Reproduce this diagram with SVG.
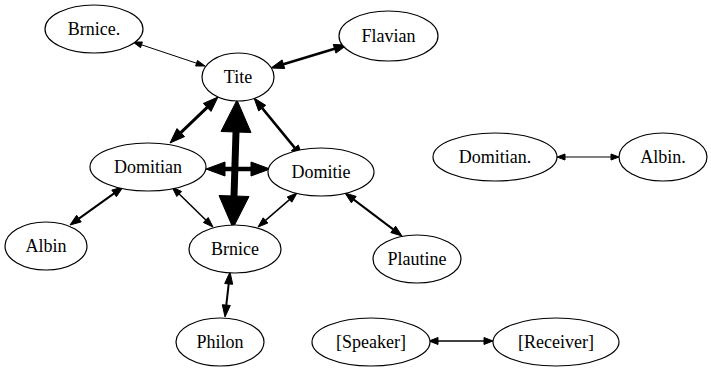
<svg xmlns="http://www.w3.org/2000/svg" width="711" height="371" viewBox="0 0 711 371">
  <style>
    .node ellipse { fill: #ffffff; stroke: #000000; stroke-width: 1.2; }
    .node text { font-family: "Liberation Serif", "Times New Roman", serif; font-size: 18px; text-anchor: middle; fill: #000000; }
    .edge line { stroke: #000000; fill: none; }
    .edge polygon { fill: #000000; stroke: #000000; stroke-width: 1; stroke-linejoin: miter; }
  </style>
  <rect width="711" height="371" fill="#ffffff"/>

  <!-- connectors: every edge is two-way, arrowheads drawn at both ends -->
  <g id="edges">
    <g class="edge" id="e_brnice2_tite">
      <line x1="141.5" y1="44.8" x2="196.5" y2="63.2" stroke-width="1"/>
      <polygon points="133,42 140.6,47.7 142.4,42.0"/>
      <polygon points="205,66 195.6,66.0 197.5,60.4"/>
    </g>
    <g class="edge" id="e_tite_flavian">
      <line x1="283.4" y1="64.2" x2="334.6" y2="48.8" stroke-width="2.5"/>
      <polygon points="271,68 284.7,68.5 282.1,59.9"/>
      <polygon points="347,45 335.9,53.1 333.3,44.5"/>
    </g>
    <g class="edge" id="e_tite_domitian">
      <line x1="207.2" y1="107.4" x2="180.8" y2="132.6" stroke-width="3"/>
      <polygon points="218,97 203.4,103.4 211.0,111.4"/>
      <polygon points="170,143 177.0,128.6 184.6,136.6"/>
    </g>
    <g class="edge" id="e_tite_domitie">
      <line x1="262.2" y1="108.1" x2="294.8" y2="147.9" stroke-width="2.5"/>
      <polygon points="254,98 258.7,110.9 265.7,105.3"/>
      <polygon points="303,158 291.3,150.7 298.3,145.1"/>
    </g>
    <g class="edge" id="e_domitian_domitie">
      <line x1="225" y1="169" x2="251" y2="169" stroke-width="4.5"/>
      <polygon points="206,169 225,162 225,176"/>
      <polygon points="270,169 251,162 251,176"/>
    </g>
    <g class="edge" id="e_tite_brnice">
      <line x1="236" y1="132" x2="234" y2="196" stroke-width="7"/>
      <polygon points="237,100 221.0,131.5 251.0,132.5"/>
      <polygon points="233,228 219.0,195.5 249.0,196.5"/>
    </g>
    <g class="edge" id="e_domitian_albin">
      <line x1="114.1" y1="193.4" x2="78.9" y2="218.6" stroke-width="2"/>
      <polygon points="123,187 111.8,190.1 116.4,196.7"/>
      <polygon points="70,225 76.6,215.3 81.2,221.9"/>
    </g>
    <g class="edge" id="e_domitian_brnice">
      <line x1="179.2" y1="194.0" x2="205.8" y2="220.0" stroke-width="1.5"/>
      <polygon points="172,187 176.8,196.5 181.6,191.5"/>
      <polygon points="213,227 203.4,222.5 208.2,217.5"/>
    </g>
    <g class="edge" id="e_domitie_brnice">
      <line x1="289.5" y1="199.6" x2="265.5" y2="220.4" stroke-width="1.5"/>
      <polygon points="297,193 287.2,197.0 291.8,202.2"/>
      <polygon points="258,227 263.2,217.8 267.8,223.0"/>
    </g>
    <g class="edge" id="e_domitie_plautine">
      <line x1="353.8" y1="199.6" x2="393.2" y2="229.4" stroke-width="2"/>
      <polygon points="345,193 351.4,202.8 356.2,196.4"/>
      <polygon points="402,236 390.8,232.6 395.6,226.2"/>
    </g>
    <g class="edge" id="e_brnice_philon">
      <line x1="228.7" y1="283.9" x2="226.3" y2="305.1" stroke-width="2"/>
      <polygon points="230,272 224.7,283.5 232.7,284.3"/>
      <polygon points="225,317 222.3,304.7 230.3,305.5"/>
    </g>
    <g class="edge" id="e_speaker_receiver">
      <line x1="438" y1="341" x2="484" y2="341" stroke-width="1.3"/>
      <polygon points="429,341 438,337.5 438,344.5"/>
      <polygon points="493,341 484,337.5 484,344.5"/>
    </g>
    <g class="edge" id="e_domitian2_albin2">
      <line x1="565" y1="157" x2="611" y2="157" stroke-width="1"/>
      <polygon points="557,157 565,154 565,160"/>
      <polygon points="619,157 611,154 611,160"/>
    </g>
  </g>

  <!-- nodes -->
  <g class="node" id="n_brnice2">
    <ellipse cx="94" cy="29" rx="49" ry="24"/>
    <text x="94" y="35">Brnice.</text>
  </g>
  <g class="node" id="n_flavian">
    <ellipse cx="388.5" cy="36" rx="49.5" ry="25"/>
    <text x="388.5" y="42">Flavian</text>
  </g>
  <g class="node" id="n_tite">
    <ellipse cx="238" cy="77" rx="36" ry="24"/>
    <text x="238" y="83">Tite</text>
  </g>
  <g class="node" id="n_domitian">
    <ellipse cx="148" cy="167" rx="58" ry="24"/>
    <text x="148" y="173">Domitian</text>
  </g>
  <g class="node" id="n_domitie">
    <ellipse cx="321" cy="172" rx="53" ry="24"/>
    <text x="321" y="178">Domitie</text>
  </g>
  <g class="node" id="n_albin">
    <ellipse cx="46" cy="246" rx="41" ry="24"/>
    <text x="46" y="252">Albin</text>
  </g>
  <g class="node" id="n_brnice">
    <ellipse cx="235" cy="249" rx="46" ry="24"/>
    <text x="235" y="255">Brnice</text>
  </g>
  <g class="node" id="n_plautine">
    <ellipse cx="417" cy="259" rx="44" ry="24"/>
    <text x="417" y="265">Plautine</text>
  </g>
  <g class="node" id="n_philon">
    <ellipse cx="220" cy="342" rx="44" ry="24"/>
    <text x="220" y="348">Philon</text>
  </g>
  <g class="node" id="n_speaker">
    <ellipse cx="371" cy="342" rx="59" ry="24"/>
    <text x="371" y="348">[Speaker]</text>
  </g>
  <g class="node" id="n_receiver">
    <ellipse cx="556" cy="342" rx="63" ry="24"/>
    <text x="556" y="348">[Receiver]</text>
  </g>
  <g class="node" id="n_domitian2">
    <ellipse cx="495" cy="157" rx="62" ry="24"/>
    <text x="495" y="163">Domitian.</text>
  </g>
  <g class="node" id="n_albin2">
    <ellipse cx="663" cy="157" rx="44" ry="24"/>
    <text x="663" y="163">Albin.</text>
  </g>
</svg>
